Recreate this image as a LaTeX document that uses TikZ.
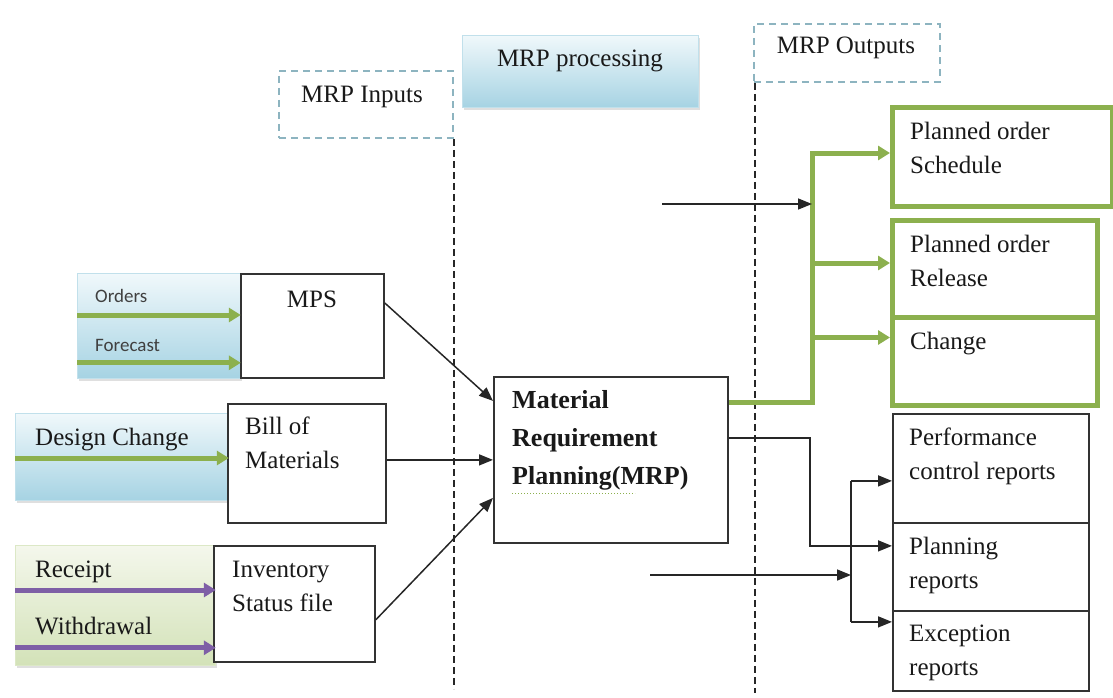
\documentclass[tikz,border=0pt]{standalone}
\usepackage{fontspec}
\setmainfont{Liberation Serif}
\newfontfamily\calib{Carlito}
\usetikzlibrary{arrows.meta,shadows}
\definecolor{gr}{HTML}{8CB04E}
\definecolor{pu}{HTML}{7E5FA6}
\definecolor{dashblue}{HTML}{8DB4C0}
\definecolor{edge}{HTML}{333333}
\definecolor{btop}{HTML}{F0F8FB}
\definecolor{bbot}{HTML}{A6D3E3}
\definecolor{gtop}{HTML}{F4F7EC}
\definecolor{gbot}{HTML}{D3E2B8}
\begin{document}
\begin{tikzpicture}[x=1pt,y=-1pt,
  box/.style={draw=edge,line width=1.8pt,fill=white,inner sep=0pt,anchor=north west},
  gbox/.style={draw=gr,line width=5pt,fill=white,inner sep=0pt,anchor=north west},
  bluegrad/.style={inner sep=0pt,anchor=north west,top color=btop,bottom color=bbot,draw=bbot!70,line width=0.8pt,
     drop shadow={shadow xshift=2pt,shadow yshift=-3pt,opacity=.25}},
  greengrad/.style={inner sep=0pt,anchor=north west,top color=gtop,bottom color=gbot,draw=gbot!80,line width=0.8pt,
     drop shadow={shadow xshift=2pt,shadow yshift=-3pt,opacity=.25}},
  dbox/.style={draw=dashblue,line width=1.8pt,dash pattern=on 7pt off 5pt,inner sep=0pt,anchor=north west},
  txt/.style={inner sep=0pt,font=\fontsize{25}{34}\selectfont,text=black!90,align=left},
  stxt/.style={inner sep=0pt,font=\calib\fontsize{19}{22}\selectfont,text=black!75,anchor=west},
  conn/.style={draw=black!85,line width=1.5pt,-{Triangle[length=14pt,width=11pt]}},
  garr/.style={draw=gr,line width=5pt,-{Triangle[length=12pt,width=14pt]}},
  gline/.style={draw=gr,line width=5pt},
  parr/.style={draw=pu,line width=5pt,-{Triangle[length=12pt,width=14pt]}},
  vdash/.style={draw=black!85,line width=2pt,dash pattern=on 7pt off 4pt}]
\useasboundingbox (0,0) rectangle (1113,698);

% header boxes
\node[dbox,minimum width=174pt,minimum height=67pt] (inp) at (278,70) {};
\node[txt] (inpt) at (362,97) {MRP Inputs};
\node[bluegrad,minimum width=236pt,minimum height=72pt] (proc) at (462,35) {};
\node[txt] (proct) at (580,61) {MRP processing};
\node[dbox,minimum width=186pt,minimum height=58pt] (outp) at (753,23) {};
\node[txt] (outpt) at (846,48) {MRP Outputs};

% separator lines
\draw[vdash] (inp.south east) -- ++(0,550);
\draw[vdash] ([xshift=2pt]outp.south west) -- ++(0,610);

% inputs
\node[bluegrad,minimum width=163pt,minimum height=105pt] (ordbox) at (77,273) {};
\node[stxt] (ordt) at (95,296) {Orders};
\node[stxt] (fort) at (95,345) {Forecast};
\node[box,minimum width=143pt,minimum height=104pt] (mps) at (240,273) {};
\node[txt] (mpst) at (312,299) {MPS};
\draw[garr] ([yshift=-42pt]ordbox.north west) -- ([yshift=-42pt]ordbox.north east);
\draw[garr] ([yshift=16pt]ordbox.south west) -- ([yshift=16pt]ordbox.south east);

\node[bluegrad,minimum width=213pt,minimum height=87pt] (dcbox) at (15,413) {};
\node[txt,anchor=west] (dct) at (35,440) {Design Change};
\node[box,minimum width=158pt,minimum height=119pt] (bom) at (227,403) {};
\node[txt,anchor=north west] (bomt) at (245,417) {Bill of\\Materials};
\draw[garr] ([yshift=-45pt]dcbox.north west) -- ([yshift=-45pt]dcbox.north east);

\node[greengrad,minimum width=200pt,minimum height=120pt] (rwbox) at (15,545) {};
\node[txt,anchor=west] (rt) at (35,572) {Receipt};
\node[txt,anchor=west] (wt) at (35,626) {Withdrawal};
\node[box,minimum width=161pt,minimum height=116pt] (inv) at (213,545) {};
\node[txt,anchor=north west] (invt) at (232,561) {Inventory\\Status file};
\draw[parr] ([yshift=-45pt]rwbox.north west) -- ([yshift=-45pt]rwbox.north east);
\draw[parr] ([yshift=18pt]rwbox.south west) -- ([yshift=18pt]rwbox.south east);

% MRP
\node[box,minimum width=234pt,minimum height=166pt] (mrp) at (493,376) {};
\node[txt,anchor=north west,font=\fontsize{26}{38}\selectfont\bfseries] (mrpt) at (512,390) {Material\\Requirement\\Planning(MRP)};
\draw[gr,line width=1pt,dotted] (512,493) -- (635,493);

\draw[conn] ([yshift=-30pt]mps.north east) -- ([yshift=59pt]mrp.west);
\draw[conn] (bom.east |- mrp.west) -- (mrp.west);
\draw[conn] ([yshift=43pt]inv.south east) -- ([yshift=-38pt]mrp.west);

% outputs (green)
\node[gbox,minimum width=220pt,minimum height=99pt] (sched) at (890,105) {};
\node[txt,anchor=north west] (schedt) at (910,122) {Planned order\\Schedule};
\node[gbox,minimum width=205pt,minimum height=97pt] (rel) at (890,218) {};
\node[txt,anchor=north west] (relt) at (910,235) {Planned order\\Release};
\node[gbox,minimum width=205pt,minimum height=88pt] (chg) at (890,315) {};
\node[txt,anchor=north west] (chgt) at (910,332) {Change};

\coordinate (gv) at (812,0);
\draw[gline] ([yshift=57pt]mrp.east) -| (gv |- rel.west);
\draw[garr] ([yshift=-2pt]gv |- rel.west) |- ([yshift=4pt]sched.west);
\draw[garr] ([yshift=6pt]gv |- rel.west) -- ([yshift=6pt]rel.west);
\draw[garr] ([yshift=24pt]gv |- chg.west) -- ([yshift=24pt]chg.west);
\coordinate (s1) at (662,204);
\draw[conn] (s1) -- (s1 -| gv);

% reports
\node[box,minimum width=196pt,minimum height=109pt] (perf) at (892,413) {};
\node[txt,anchor=north west] (perft) at (909,428) {Performance\\control reports};
\node[box,minimum width=196pt,minimum height=88pt] (plan) at (892,522) {};
\node[txt,anchor=north west] (plant) at (909,537) {Planning\\reports};
\node[box,minimum width=196pt,minimum height=80pt] (exc) at (892,610) {};
\node[txt,anchor=north west] (exct) at (909,625) {Exception\\reports};

\coordinate (bv) at (810,0);
\coordinate (rv) at (851,0);
\draw[conn] ([yshift=22pt]mrp.east) -| ([yshift=21pt]bv |- plan.west) -- ([yshift=21pt]plan.west);
\draw[draw=black!85,line width=1.5pt] ([yshift=-12.5pt]rv |- perf.west) -- ([yshift=29pt]rv |- exc.west);
\draw[conn] ([yshift=-12.5pt]rv |- perf.west) -- ([yshift=-12.5pt]perf.west);
\draw[conn] ([yshift=29pt]rv |- exc.west) -- ([yshift=29pt]exc.west);
\coordinate (s2) at (650,575);
\draw[conn] (s2) -- (s2 -| rv);
\end{tikzpicture}
\end{document}
